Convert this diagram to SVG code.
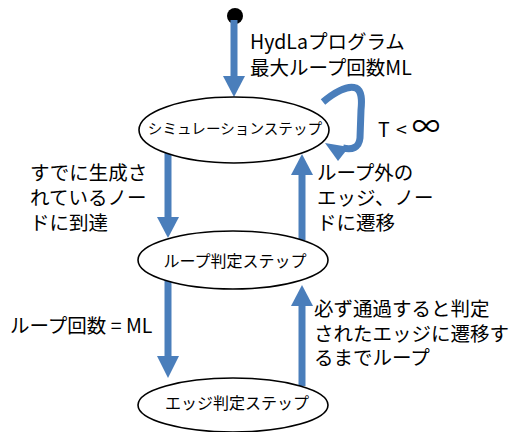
<svg xmlns="http://www.w3.org/2000/svg" width="511" height="432" viewBox="0 0 511 432">
<style>
.node ellipse{fill:#fff;stroke:#000;stroke-width:1.6}
.nt{font-family:"Noto Sans CJK JP","Noto Sans",sans-serif;fill:#000;text-anchor:middle}
.lb{font-family:"Noto Sans CJK JP","Noto Sans",sans-serif;font-size:19.5px;fill:#000}
.sh{stroke:#4a7ebb;stroke-width:7;fill:none;stroke-linecap:butt}
.hd{fill:#4a7ebb}
</style>
<rect width="511" height="432" fill="#fff"/>
<g id="start"><circle cx="235" cy="16" r="8" fill="#000"/></g>
<g id="connectors">
<line class="sh" x1="234" y1="20" x2="234" y2="76"/>
<polygon class="hd" points="223,76 245,76 234,97"/>
<line class="sh" x1="168" y1="152" x2="168" y2="217"/>
<polygon class="hd" points="157,217 179,217 168,238"/>
<line class="sh" x1="302" y1="240" x2="302" y2="175"/>
<polygon class="hd" points="291,175 313,175 302,154"/>
<line class="sh" x1="168" y1="280" x2="168" y2="356"/>
<polygon class="hd" points="157,356 179,356 168,378"/>
<line class="sh" x1="302" y1="386" x2="302" y2="306"/>
<polygon class="hd" points="291,306 313,306 302,285"/>
<path class="sh" d="M323,102 C335,92 348,85 356,88 C362,91 362,100 361,110 L360,138 C359,148 352,150 343,148"/>
<polygon class="hd" points="325,143 349,147 338,161"/>
</g>
<g id="sim" class="node"><ellipse cx="234" cy="130" rx="95" ry="33"/><text class="nt" x="235" y="134" font-size="14.6">シミュレーションステップ</text></g>
<g id="loop" class="node"><ellipse cx="233" cy="260" rx="95" ry="29"/><text class="nt" x="235" y="267" font-size="16">ループ判定ステップ</text></g>
<g id="edge" class="node"><ellipse cx="233" cy="405" rx="95" ry="27"/><text class="nt" x="237" y="409" font-size="16">エッジ判定ステップ</text></g>
<g id="labels">
<text class="lb"><tspan x="250" y="49">HydLaプログラム</tspan><tspan x="250" y="75">最大ループ回数ML</tspan></text>
<text class="lb" y="137"><tspan x="378">T</tspan><tspan x="396">&lt;</tspan><tspan x="412" font-size="28">∞</tspan></text>
<text class="lb"><tspan x="30" y="180">すでに生成さ</tspan><tspan x="30" y="205">れているノー</tspan><tspan x="30" y="230">ドに到達</tspan></text>
<text class="lb"><tspan x="317" y="180">ループ外の</tspan><tspan x="317" y="205">エッジ、ノー</tspan><tspan x="317" y="230">ドに遷移</tspan></text>
<text class="lb" x="10" y="333">ループ回数 = ML</text>
<text class="lb"><tspan x="314" y="316">必ず通過すると判定</tspan><tspan x="314" y="341">されたエッジに遷移す</tspan><tspan x="314" y="365">るまでループ</tspan></text>
</g>
</svg>
